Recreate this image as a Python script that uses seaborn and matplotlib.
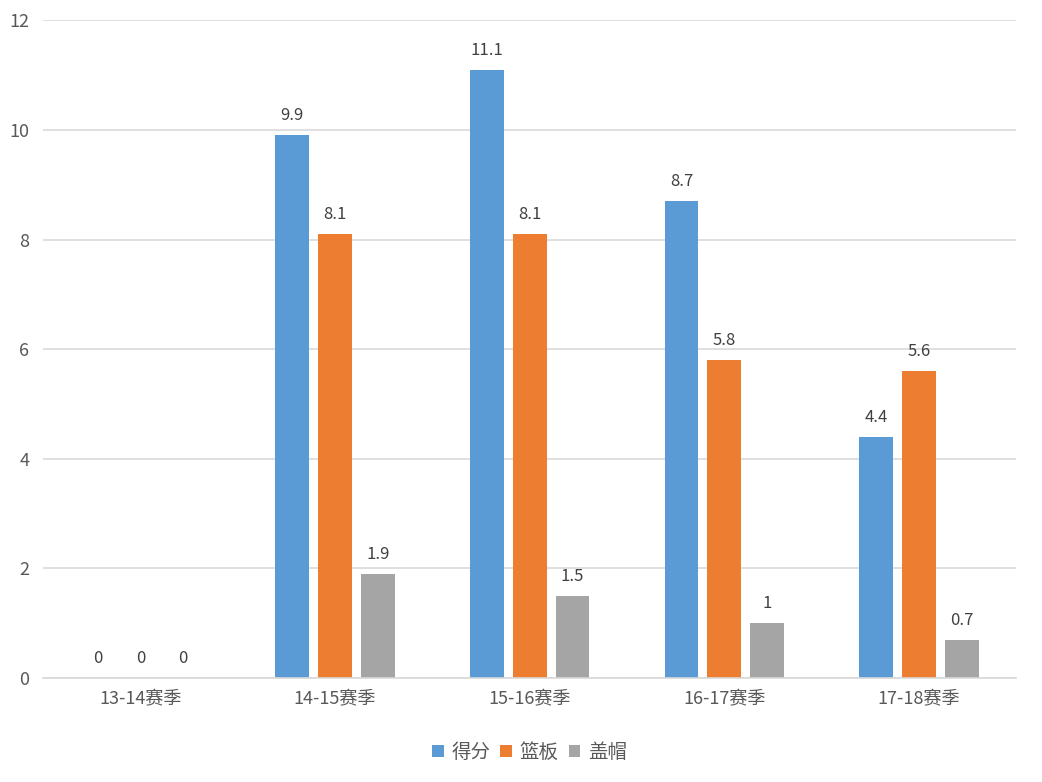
import matplotlib
matplotlib.use("Agg")
import matplotlib.pyplot as plt
import seaborn as sns
import pandas as pd

seasons = ["13-14赛季", "14-15赛季", "15-16赛季", "16-17赛季", "17-18赛季"]
points = [0, 9.9, 11.1, 8.7, 4.4]
rebounds = [0, 8.1, 8.1, 5.8, 5.6]
blocks = [0, 1.9, 1.5, 1, 0.7]
series = ["得分", "篮板", "盖帽"]
colors = ["#5B9BD5", "#ED7D31", "#A5A5A5"]

rows = []
for s, p, r, b in zip(seasons, points, rebounds, blocks):
    rows.append((s, series[0], p))
    rows.append((s, series[1], r))
    rows.append((s, series[2], b))
df = pd.DataFrame(rows, columns=["season", "stat", "value"])

sns.set_theme(style="white")
plt.rcParams['font.family'] = ['Noto Sans CJK SC', 'DejaVu Sans']

fig = plt.figure(figsize=(10.42, 7.82), dpi=100)
ax = fig.add_axes([0.0413, 0.133, 0.934, 0.841])

sns.barplot(data=df, x="season", y="value", hue="stat", palette=colors,
            width=0.66, gap=0.21, ax=ax, saturation=1, legend=True,
            linewidth=0, edgecolor="none")

ax.set_ylim(0, 12)
ax.set_yticks(range(0, 13, 2))
ax.set_xlim(-0.5, len(seasons) - 0.5)
ax.yaxis.grid(True, color="#D9D9D9", linewidth=1.2)
ax.set_axisbelow(True)
for sp in ["top", "right", "left"]:
    ax.spines[sp].set_visible(False)
ax.spines["bottom"].set_color("#D9D9D9")
ax.spines["bottom"].set_linewidth(1.2)
ax.set_xlabel("")
ax.set_ylabel("")
ax.tick_params(axis="both", length=0, labelsize=13, colors="#595959")
ax.tick_params(axis="y", pad=10)
ax.tick_params(axis="x", pad=9)

for cont in ax.containers:
    labels = [("%g" % v) for v in cont.datavalues]
    ax.bar_label(cont, labels=labels, padding=8, fontsize=12, color="#404040")

leg = ax.legend(loc="upper center", bbox_to_anchor=(0.5, -0.07), ncol=3,
                frameon=False, fontsize=14, handlelength=0.6, handleheight=0.6,
                handletextpad=0.4, columnspacing=0.5)
for t in leg.get_texts():
    t.set_color("#595959")

fig.savefig("out.png", dpi=100, facecolor="white")
